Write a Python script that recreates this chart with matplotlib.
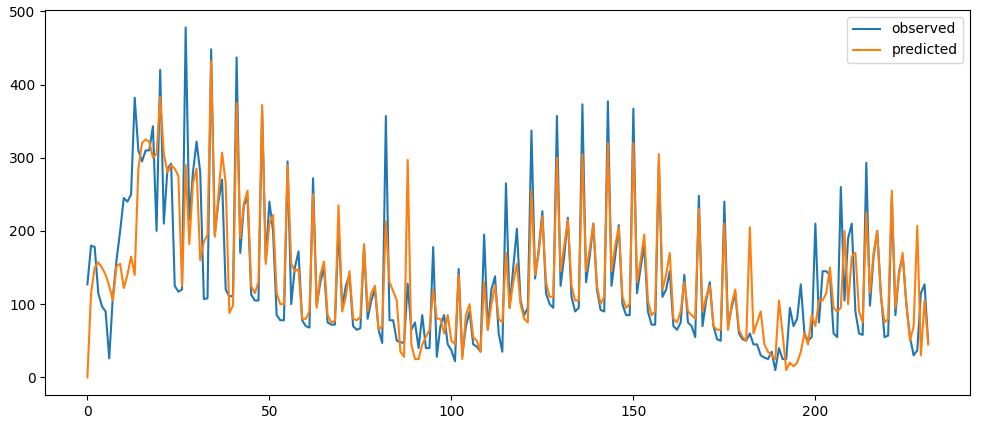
import numpy as np
import matplotlib.pyplot as plt

observed = [
    127, 180, 178, 115, 97, 90, 26, 111, 160, 200,
    245, 240, 250, 382, 310, 295, 310, 310, 343, 200,
    420, 210, 285, 292, 125, 117, 120, 478, 215, 280,
    322, 280, 107, 108, 448, 195, 240, 270, 120, 110,
    112, 437, 170, 235, 245, 113, 105, 105, 365, 160,
    240, 200, 85, 78, 78, 295, 100, 150, 172, 78,
    70, 68, 272, 98, 130, 150, 75, 72, 72, 205,
    95, 125, 140, 70, 65, 67, 180, 80, 105, 120,
    65, 47, 357, 78, 78, 50, 48, 47, 128, 65,
    75, 40, 85, 40, 40, 178, 28, 70, 85, 45,
    37, 22, 148, 30, 70, 90, 45, 42, 35, 195,
    65, 120, 138, 60, 35, 265, 95, 150, 203, 105,
    85, 95, 337, 135, 175, 227, 115, 100, 95, 357,
    125, 165, 218, 110, 90, 95, 373, 130, 165, 210,
    120, 92, 90, 377, 125, 165, 208, 100, 85, 85,
    367, 115, 150, 180, 90, 72, 72, 295, 110, 120,
    145, 70, 65, 75, 140, 75, 70, 55, 248, 70,
    105, 130, 70, 52, 50, 240, 70, 95, 115, 60,
    52, 50, 60, 45, 45, 30, 27, 25, 35, 10,
    40, 25, 25, 95, 70, 80, 127, 60, 50, 55,
    210, 75, 145, 145, 140, 60, 55, 260, 105, 190,
    210, 90, 60, 58, 293, 98, 165, 200, 115, 55,
    57, 245, 85, 145, 165, 100, 55, 30, 37, 115,
    127, 47,
]

predicted = [
    0, 115, 150, 157, 150, 140, 125, 105, 152, 155,
    122, 140, 165, 140, 285, 320, 325, 322, 300, 305,
    383, 305, 280, 290, 285, 275, 125, 290, 182, 265,
    285, 160, 185, 195, 432, 192, 250, 307, 265, 88,
    98, 375, 190, 238, 255, 125, 115, 130, 372, 155,
    210, 222, 115, 100, 100, 290, 155, 145, 148, 80,
    80, 90, 250, 95, 140, 158, 85, 75, 77, 235,
    90, 110, 145, 80, 78, 82, 182, 90, 115, 125,
    65, 70, 213, 130, 118, 105, 35, 28, 297, 45,
    25, 25, 45, 55, 65, 120, 80, 80, 60, 85,
    50, 45, 140, 25, 85, 100, 55, 50, 35, 130,
    65, 100, 125, 80, 75, 170, 95, 130, 155, 100,
    80, 75, 255, 140, 170, 220, 130, 110, 110, 300,
    145, 180, 215, 125, 105, 105, 305, 145, 175, 210,
    125, 100, 110, 320, 145, 180, 205, 110, 95, 100,
    320, 130, 160, 195, 105, 85, 90, 305, 120, 140,
    170, 80, 75, 90, 130, 90, 85, 80, 230, 90,
    110, 125, 70, 65, 65, 210, 65, 100, 120, 65,
    55, 50, 205, 60, 75, 90, 45, 35, 30, 25,
    105, 60, 10, 20, 15, 20, 35, 60, 45, 85,
    70, 105, 105, 115, 150, 95, 90, 95, 200, 100,
    165, 170, 90, 75, 225, 115, 170, 200, 110, 75,
    80, 255, 95, 140, 170, 100, 50, 70, 207, 30,
    105, 45,
]

n = min(len(observed), len(predicted))
t = np.arange(n)

fig = plt.figure(figsize=(9.86, 4.32), dpi=100)
ax = fig.add_axes([0.046, 0.086, 0.938, 0.891])
ax.plot(t, observed[:n], label='observed')
ax.plot(t, predicted[:n], label='predicted')
ax.legend(loc='upper right')
fig.savefig('out.png', dpi=100)
